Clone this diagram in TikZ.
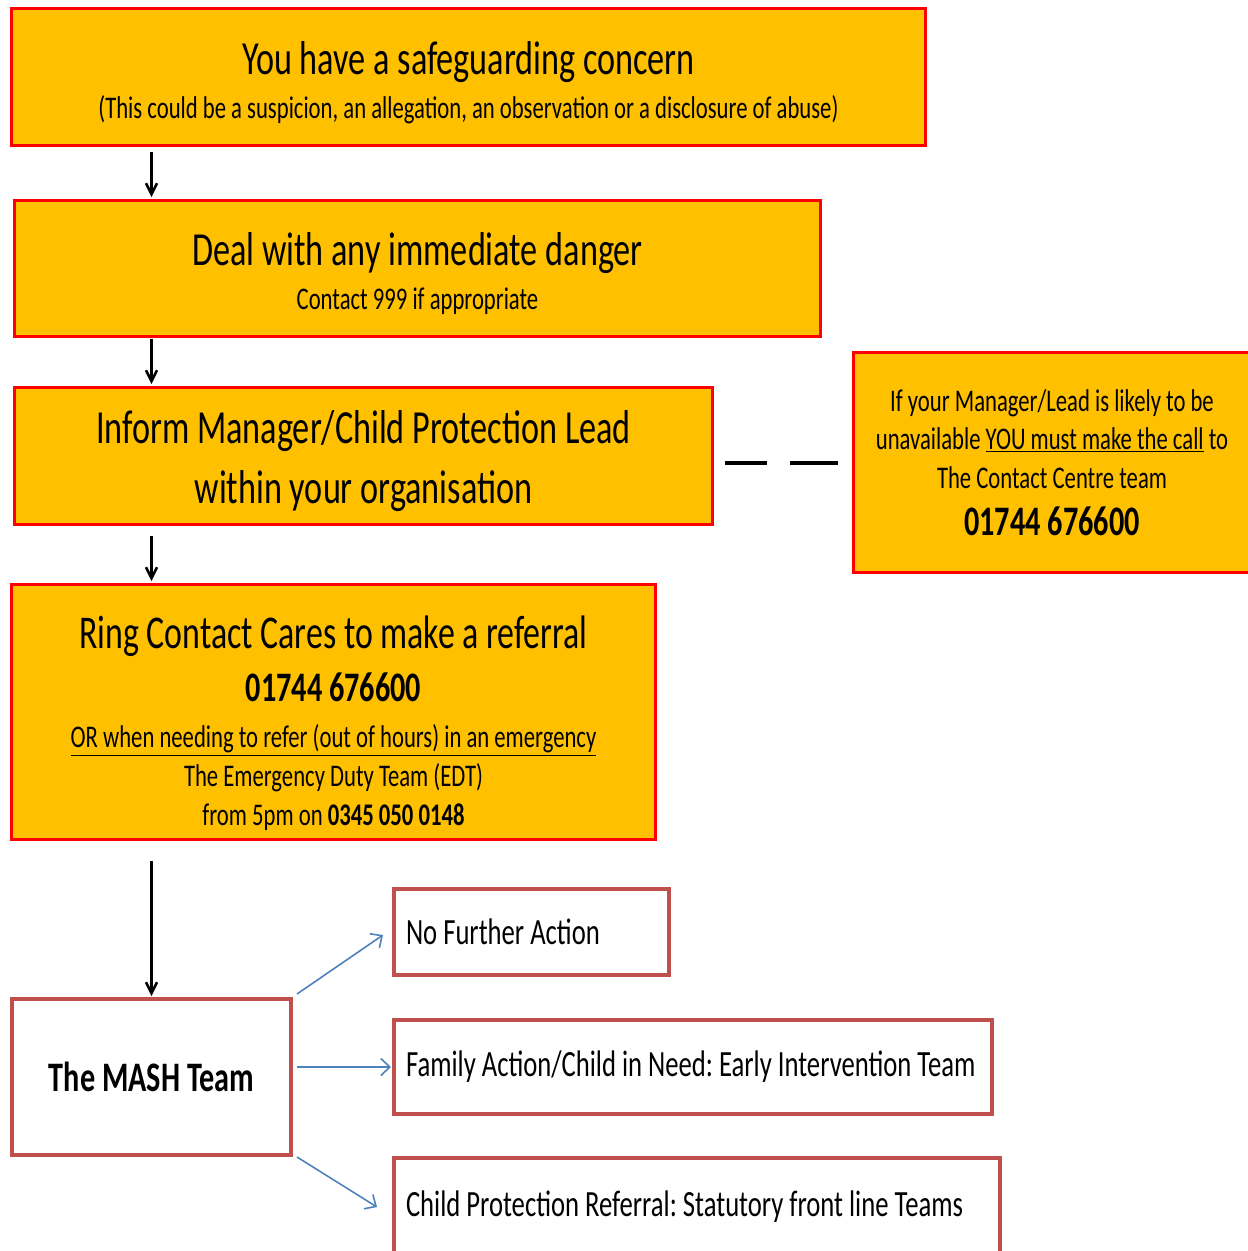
\documentclass[tikz,border=0pt]{standalone}
\usepackage{fontspec}
\setmainfont[FakeStretch=0.72]{Carlito}
\usetikzlibrary{positioning,arrows.meta}
\definecolor{amber}{HTML}{FFC000}
\definecolor{mashred}{HTML}{C0504D}
\definecolor{linkblue}{HTML}{4F81BD}
\newcommand{\lift}[1]{\rule{0pt}{#1}}
\frenchspacing

\begin{document}
\begin{tikzpicture}[x=1pt,y=-1pt]
  \tikzstyle{stage}=[draw=red,fill=amber,line width=3pt,align=center,inner sep=0pt]
  \tikzstyle{outcome}=[draw=mashred,line width=4pt,inner xsep=12pt,inner ysep=0pt,align=flush left,font=\fontsize{37}{40}\selectfont]
  \tikzstyle{flow}=[line width=2.5pt,-{Straight Barb[length=11pt,width=11pt]}]
  \tikzstyle{branch}=[linkblue,line width=1.6pt,-{Straight Barb[length=9pt,width=17pt]}]
  \clip (0,0) rectangle (1248,1251);
  \fill[white] (0,0) rectangle (1248,1251);

  \node[stage,minimum width=914pt,minimum height=137pt,font=\fontsize{31.5}{44}\selectfont] (concern) at (468.5,77)
    {{\fontsize{47.5}{47.5}\selectfont\lift{44pt}You have a safeguarding concern}\\
     (This could be a suspicion, an allegation, an observation or a disclosure of abuse)};
  \node[stage,minimum width=806pt,minimum height=136pt,font=\fontsize{31.5}{44}\selectfont] (danger) at (417.5,268.5)
    {{\fontsize{47.5}{47.5}\selectfont\lift{44pt}Deal with any immediate danger}\\
     Contact 999 if appropriate};
  \node[stage,minimum width=698pt,minimum height=137pt,font=\fontsize{47.5}{60}\selectfont] (inform) at (363.5,456)
    {\lift{44pt}Inform Manager/Child Protection Lead\\ within your organisation};
  \node[stage,minimum width=397pt,minimum height=220pt,font=\fontsize{31.5}{38.5}\selectfont] (callbox) at (1052,462.5)
    {If your Manager/Lead is likely to be\\
     unavailable \underline{YOU must make the call} to\\
     The Contact Centre team\\[9pt]
     {\fontsize{42}{42}\selectfont\bfseries 01744 676600}};
  \node[stage,minimum width=644pt,minimum height=255pt,font=\fontsize{31.5}{39}\selectfont] (referral) at (333.5,712)
    {{\fontsize{47}{47}\selectfont\lift{56pt}Ring Contact Cares to make a referral}\\[14pt]
     {\fontsize{42}{42}\selectfont\bfseries 01744 676600}\\[7pt]
     \underline{OR when needing to refer (out of hours) in an emergency}\\
     The Emergency Duty Team (EDT)\\
     from 5pm on \textbf{0345 050 0148}};

  \node[draw=mashred,line width=4pt,minimum width=279pt,minimum height=156pt,font=\fontsize{42}{44}\selectfont\bfseries] (mash) at (151.5,1077) {The MASH Team};
  \node[outcome,minimum width=275pt,minimum height=86pt,text width=251pt] (nfa) at (531.5,932) {No Further Action};
  \node[outcome,minimum width=598pt,minimum height=94pt,text width=574pt] (family) at (693,1067) {Family Action/Child in Need: Early Intervention Team};
  \node[outcome,minimum width=606pt,minimum height=98pt,text width=582pt] (cp) at (697,1207) {Child Protection Referral: Statutory front line Teams};

  % main flow
  \draw[flow,shorten <=5pt,shorten >=2pt] (concern.south -| mash.north) -- (danger.north -| mash.north);
  \draw[flow,shorten <=1pt,shorten >=2pt] (danger.south -| mash.north) -- (inform.north -| mash.north);
  \draw[flow,shorten <=10pt,shorten >=2pt] (inform.south -| mash.north) -- (referral.north -| mash.north);
  \draw[flow,shorten <=20pt,shorten >=1pt] (referral.south -| mash.north) -- (mash.north);

  % link to the contact centre
  \draw[line width=4pt,dash pattern=on 42pt off 23pt on 48pt off 60pt] ([xshift=11pt]inform.east |- callbox.west) -- ([xshift=-14pt]callbox.west);

  % outcomes
  \draw[branch] ([shift={(4,-3)}]mash.north east) -- ([shift={(-9,3)}]nfa.west);
  \draw[branch] ([xshift=4pt]mash.east |- family.west) -- ([xshift=-1pt]family.west);
  \draw[branch] ([xshift=4pt]mash.south east) -- ([xshift=-15pt]cp.west);
\end{tikzpicture}
\end{document}
